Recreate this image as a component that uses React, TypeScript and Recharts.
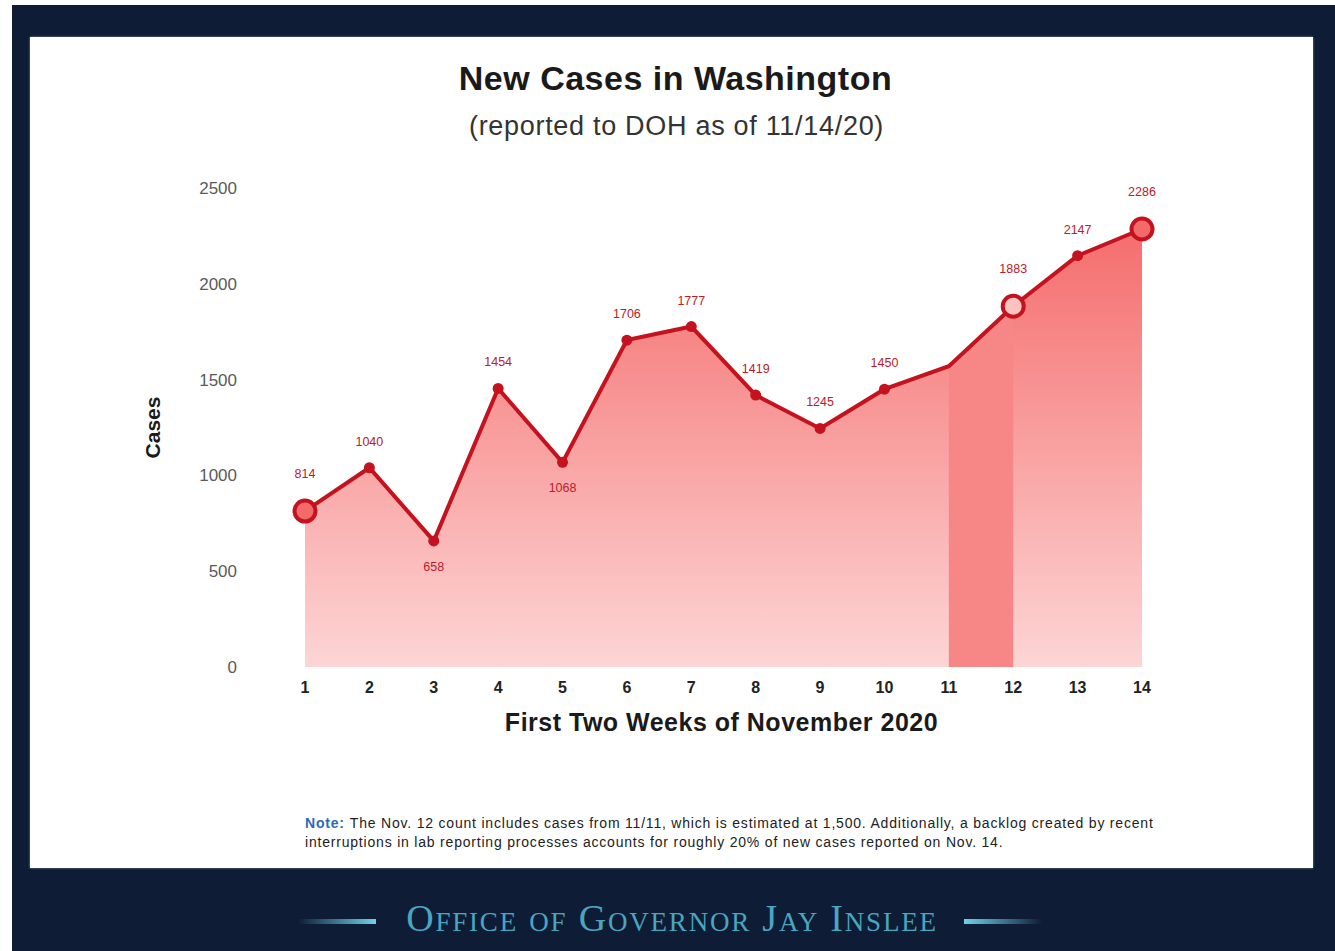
import React from 'react';
import { ComposedChart, Area, Line, XAxis, YAxis, LabelList, Label } from 'recharts';

// November 2020 day numbers and new cases reported
const days = [1, 2, 3, 4, 5, 6, 7, 8, 9, 10, 11, 12, 13, 14];
const cases = [814, 1040, 658, 1454, 1068, 1706, 1777, 1419, 1245, 1450, 1570, 1883, 2147, 2286];
// day 11 has no printed value
const shownLabels = [814, 1040, 658, 1454, 1068, 1706, 1777, 1419, 1245, 1450, null, 1883, 2147, 2286];
// days folded into the Nov. 12 count
const backlogDays = [11, 12];
const yTicks = [0, 500, 1000, 1500, 2000, 2500];

const data = days.map((day, i) => ({
  day,
  cases: cases[i],
  band: backlogDays.includes(day) ? cases[i] : null,
  label: shownLabels[i],
}));

const RED = '#c4121f';
const ringDays = [1, 14];
const paleRingDays = [12];
const noDotDays = [11];
const labelBelowDays = [3, 5];

const renderDot = (props: any) => {
  const { cx, cy, payload } = props;
  const key = `dot-${payload.day}`;
  if (noDotDays.includes(payload.day)) return <g key={key} />;
  if (ringDays.includes(payload.day))
    return <circle key={key} cx={cx} cy={cy} r={10.5} fill="#f46a6a" stroke={RED} strokeWidth={4} />;
  if (paleRingDays.includes(payload.day))
    return <circle key={key} cx={cx} cy={cy} r={10.5} fill="#fbc2c0" stroke={RED} strokeWidth={4} />;
  return <circle key={key} cx={cx} cy={cy} r={5.5} fill={RED} stroke="none" />;
};

const renderValue = (props: any) => {
  const { x, y, value, index } = props;
  if (value == null) return null;
  const day = days[index];
  const big = ringDays.includes(day) || paleRingDays.includes(day);
  const below = labelBelowDays.includes(day);
  const dy = below ? 26 : big ? -37 : -26;
  return (
    <text
      x={x}
      y={y + dy}
      textAnchor="middle"
      dominantBaseline="central"
      fill="#b8202c"
      fontSize={12.5}
      fontFamily="'Liberation Sans Narrow', 'Liberation Sans', Arial, sans-serif"
    >
      {value}
    </text>
  );
};

const App: React.FC = () => {
  return (
    <div
      style={{
        position: 'absolute',
        left: 0,
        top: 0,
        width: 1335,
        height: 951,
        background: '#ffffff',
        overflow: 'hidden',
        fontFamily: "'Liberation Sans', Arial, sans-serif",
      }}
    >
      <div style={{ position: 'absolute', left: 12, top: 5, right: 0, bottom: 0, background: '#0e1d35' }} />
      <div
        style={{
          position: 'absolute',
          left: 30,
          top: 37,
          width: 1283,
          height: 831,
          background: '#ffffff',
          boxShadow: '0 0 2px #8a96a8',
        }}
      />

      {/* Titles */}
      <div
        style={{
          position: 'absolute',
          left: 0,
          width: 1351,
          top: 59,
          textAlign: 'center',
          fontSize: 34,
          letterSpacing: 0.5,
          fontWeight: 'bold',
          color: '#1a1a1a',
          whiteSpace: 'nowrap',
        }}
      >
        New Cases in Washington
      </div>
      <div
        style={{
          position: 'absolute',
          left: 0,
          width: 1353,
          top: 111,
          textAlign: 'center',
          fontSize: 27,
          letterSpacing: 0.7,
          color: '#333333',
          whiteSpace: 'nowrap',
        }}
      >
        (reported to DOH as of 11/14/20)
      </div>

      <div style={{ position: 'absolute', left: 0, top: 0 }}>
        <ComposedChart
          width={1335}
          height={951}
          data={data}
          margin={{ top: 188, right: 193, bottom: 254, left: 145 }}
        >
          <defs>
            <linearGradient id="caseFill" x1="0" y1="0" x2="0" y2="1">
              <stop offset="0%" stopColor="#f56d6d" />
              <stop offset="100%" stopColor="#fdd5d5" />
            </linearGradient>
          </defs>
          <XAxis
            dataKey="day"
            type="number"
            domain={[1, 14]}
            ticks={days}
            axisLine={false}
            tickLine={false}
            tickSize={0}
            tickMargin={15}
            height={30}
            tick={{ fill: '#222222', fontSize: 16, fontWeight: 'bold' }}
          />
          <YAxis
            type="number"
            domain={[0, 2500]}
            ticks={yTicks}
            axisLine={false}
            tickLine={false}
            tickSize={0}
            tickMargin={68}
            width={160}
            tick={{ fill: '#5a5a5a', fontSize: 17 }}
          >
            <Label
              value="Cases"
              angle={-90}
              position="insideLeft"
              offset={8}
              style={{ textAnchor: 'middle', fontSize: 21, fontWeight: 'bold', fill: '#1a1a1a' }}
            />
          </YAxis>
          <Area
            type="linear"
            dataKey="cases"
            stroke="none"
            fill="url(#caseFill)"
            fillOpacity={1}
            isAnimationActive={false}
          />
          <Area
            type="linear"
            dataKey="band"
            stroke="none"
            fill="#f78686"
            fillOpacity={1}
            connectNulls={false}
            isAnimationActive={false}
          />
          <Line
            type="linear"
            dataKey="cases"
            stroke={RED}
            strokeWidth={4}
            dot={renderDot}
            activeDot={false}
            isAnimationActive={false}
          >
            <LabelList dataKey="label" content={renderValue} />
          </Line>
        </ComposedChart>
      </div>

      <div
        style={{
          position: 'absolute',
          left: 0,
          width: 1443,
          top: 708,
          textAlign: 'center',
          fontSize: 25,
          letterSpacing: 0.5,
          fontWeight: 'bold',
          color: '#1a1a1a',
          whiteSpace: 'nowrap',
        }}
      >
        First Two Weeks of November 2020
      </div>

      {/* Note */}
      <div
        style={{
          position: 'absolute',
          left: 305,
          top: 814,
          width: 900,
          fontSize: 14,
          letterSpacing: 0.8,
          lineHeight: '19px',
          color: '#222222',
          whiteSpace: 'nowrap',
        }}
      >
        <span style={{ color: '#2a6ab8', fontWeight: 'bold', marginRight: 5 }}>Note:</span>The Nov. 12 count includes
        cases from 11/11, which is estimated at 1,500. Additionally, a backlog created by recent
        <br />
        interruptions in lab reporting processes accounts for roughly 20% of new cases reported on Nov. 14.
      </div>

      {/* Footer */}
      <div
        style={{
          position: 'absolute',
          left: 298,
          top: 919,
          width: 78,
          height: 5,
          background: 'linear-gradient(to right, rgba(80,190,215,0), #6cd2ea)',
        }}
      />
      <div
        style={{
          position: 'absolute',
          left: 964,
          top: 919,
          width: 78,
          height: 5,
          background: 'linear-gradient(to left, rgba(80,190,215,0), #6cd2ea)',
        }}
      />
      <div
        style={{
          position: 'absolute',
          left: 372,
          width: 600,
          top: 896,
          textAlign: 'center',
          fontSize: 38,
          fontVariant: 'small-caps',
          letterSpacing: 1.8,
          color: '#4aa6c0',
          fontFamily: "'Liberation Serif', 'DejaVu Serif', serif",
          whiteSpace: 'nowrap',
        }}
      >
        Office of Governor Jay Inslee
      </div>
    </div>
  );
};

export default App;
